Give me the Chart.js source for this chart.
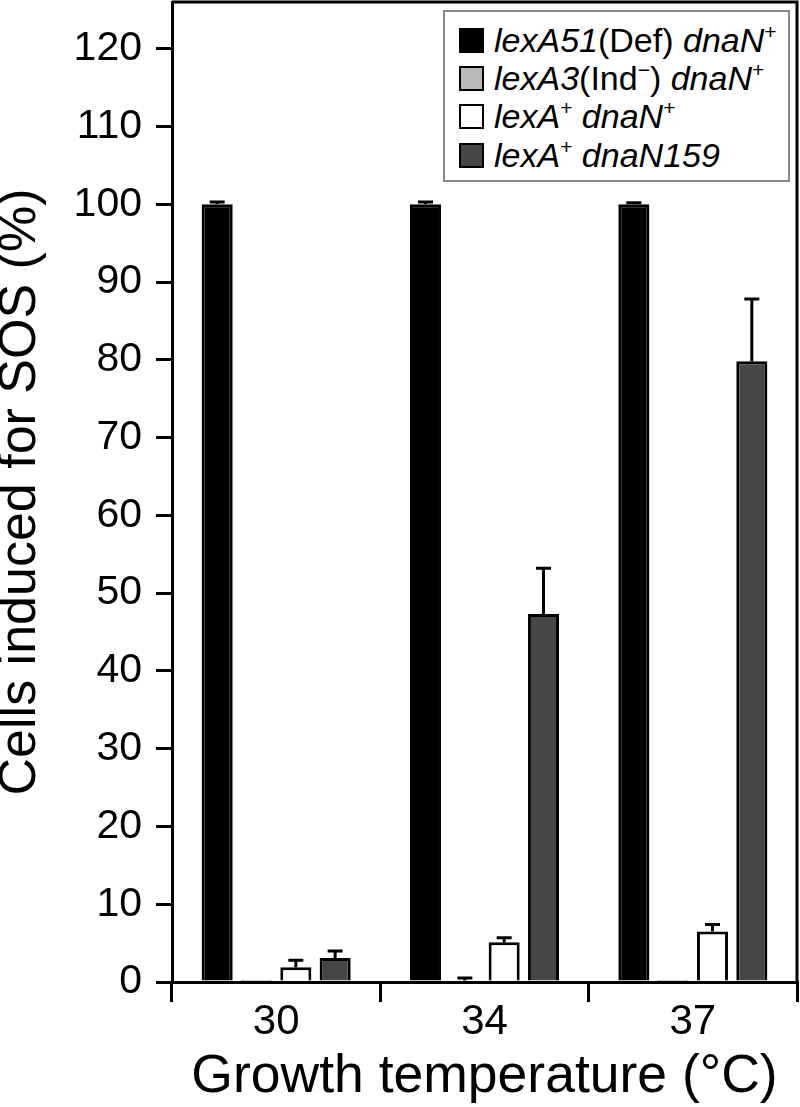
<!DOCTYPE html>
<html>
<head>
<meta charset="utf-8">
<script src="https://cdn.jsdelivr.net/npm/chart.js@4"></script>
<style>
  body { margin: 0; background: #fff; }
  #wrap { position: relative; width: 800px; height: 1107px; }
  #legend {
    position: absolute; left: 443px; top: 10px; width: 347px; height: 172px;
    border: 2px solid #888; background: #fff; box-sizing: border-box;
    font-family: "Liberation Sans", Arial, sans-serif; font-size: 34px; color: #000;
    padding-top: 9px;
  }
  #legend .row { display: flex; align-items: center; height: 38.3px; white-space: nowrap; }
  #legend .sw { width: 21px; height: 21px; border: 2px solid #000; margin-left: 14px; margin-right: 10px; flex: none; }
  #legend sup { font-size: 21px; line-height: 0; vertical-align: 13px; }
</style>
</head>
<body>
<div id="wrap">
  <canvas id="myChart" width="800" height="1107"></canvas>
  <div id="legend"></div>
</div>
<script>
// growth temperatures (°C)
const temps = ['30', '34', '37'];

// % cells induced for SOS, and the error bar above each bar
const lexA51 = [100, 100, 100];
const lexA51Err = [0.3, 0.3, 0.2];
const lexA3 = [0.1, 0.2, 0.1];
const lexA3Err = [0, 0.3, 0];
const lexAwt = [1.9, 5.1, 6.5];
const lexAwtErr = [0.9, 0.6, 0.9];
const dnaN159 = [3.1, 47.3, 79.8];
const dnaN159Err = [0.9, 5.9, 8.0];

const seriesLabels = [
  '<i>lexA51</i>(Def) <i>dnaN</i><sup>+</sup>',
  '<i>lexA3</i>(Ind<sup>\u2212</sup>) <i>dnaN</i><sup>+</sup>',
  '<i>lexA</i><sup>+</sup> <i>dnaN</i><sup>+</sup>',
  '<i>lexA</i><sup>+</sup> <i>dnaN159</i>'
];
const yTicks = [0, 10, 20, 30, 40, 50, 60, 70, 80, 90, 100, 110, 120];

const FONT = '"Liberation Sans", Arial, sans-serif';

// error bars drawn from the scales
const errorBars = {
  id: 'errorBars',
  afterDatasetsDraw(chart) {
    const ctx = chart.ctx;
    const y = chart.scales.y;
    ctx.save();
    ctx.strokeStyle = '#000';
    ctx.lineWidth = 3;
    chart.data.datasets.forEach((ds, i) => {
      const meta = chart.getDatasetMeta(i);
      meta.data.forEach((bar, j) => {
        const e = ds.errors[j];
        if (!e) return;
        const top = y.getPixelForValue(ds.data[j] + e);
        ctx.beginPath();
        ctx.moveTo(bar.x, bar.y);
        ctx.lineTo(bar.x, top);
        ctx.moveTo(bar.x - 7.5, top);
        ctx.lineTo(bar.x + 7.5, top);
        ctx.stroke();
      });
    });
    ctx.restore();
  }
};

// top and right edges of the box
const frame = {
  id: 'frame',
  afterDraw(chart) {
    const a = chart.chartArea;
    const ctx = chart.ctx;
    ctx.save();
    ctx.strokeStyle = '#000';
    ctx.lineWidth = 3;
    ctx.beginPath();
    ctx.moveTo(a.left, a.top);
    ctx.lineTo(a.right, a.top);
    ctx.lineTo(a.right, a.bottom);
    ctx.stroke();
    ctx.restore();
  }
};

function makeSet(label, data, errors, fill) {
  return {
    label: label,
    data: data,
    errors: errors,
    backgroundColor: fill,
    borderColor: '#000',
    borderWidth: 3,
    borderSkipped: 'bottom',
    categoryPercentage: 0.755,
    barPercentage: 0.79
  };
}

const chart = new Chart('myChart', {
  type: 'bar',
  data: {
    labels: temps,
    datasets: [
      makeSet('lexA51(Def) dnaN+', lexA51, lexA51Err, '#000000'),
      makeSet('lexA3(Ind-) dnaN+', lexA3, lexA3Err, '#b9b9b9'),
      makeSet('lexA+ dnaN+', lexAwt, lexAwtErr, '#ffffff'),
      makeSet('lexA+ dnaN159', dnaN159, dnaN159Err, '#474747')
    ]
  },
  options: {
    responsive: false,
    animation: false,
    devicePixelRatio: 1,
    layout: { padding: { top: 2, right: 3, bottom: 0, left: 0 } },
    plugins: { legend: { display: false }, tooltip: { enabled: false } },
    scales: {
      x: {
        grid: { drawOnChartArea: false, tickLength: 20, lineWidth: 3, color: '#000', offset: true },
        border: { color: '#000', width: 3 },
        ticks: { color: '#000', font: { family: FONT, size: 42, lineHeight: 1 }, padding: -1 },
        title: {
          display: true, text: 'Growth temperature (\u00b0C)', color: '#000',
          font: { family: FONT, size: 53.5, lineHeight: 1.1 }, padding: 0
        },
        afterFit(s) { s.height = 125; s.paddingLeft = 0; s.paddingRight = 0; }
      },
      y: {
        min: 0,
        max: 126,
        afterBuildTicks(s) { s.ticks = yTicks.map(v => ({ value: v })); },
        grid: { drawOnChartArea: false, tickLength: 16, lineWidth: 3, color: '#000' },
        border: { color: '#000', width: 3 },
        ticks: { color: '#000', font: { family: FONT, size: 41 }, padding: 14 },
        title: {
          display: true, text: 'Cells induced for SOS (%)', color: '#000',
          font: { family: FONT, size: 52, lineHeight: 0.8 }, padding: 0
        },
        afterFit(s) { s.width = 172; s.paddingTop = 0; s.paddingBottom = 0; }
      }
    }
  },
  plugins: [errorBars, frame]
});

// legend built from the chart's datasets
const legend = document.getElementById('legend');
chart.data.datasets.forEach((ds, i) => {
  const row = document.createElement('div');
  row.className = 'row';
  row.innerHTML = '<span class="sw" style="background:' + ds.backgroundColor + '"></span><span>' + seriesLabels[i] + '</span>';
  legend.appendChild(row);
});
</script>
</body>
</html>
